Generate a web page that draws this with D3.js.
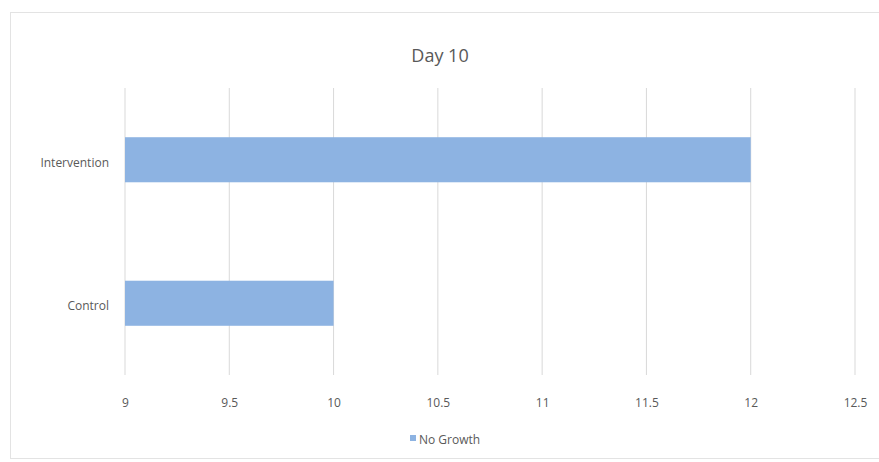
<!DOCTYPE html>
<html><head><meta charset="utf-8">
<script src="https://cdn.jsdelivr.net/npm/d3@7"></script>
<style>body{margin:0;background:#fff;} text{font-family:"Open Sans","Liberation Sans",sans-serif;}</style>
</head><body>
<svg id="c" width="879" height="462"></svg>
<script>
const categories = ["Intervention", "Control"];
const values = [12, 10];
const seriesName = "No Growth";
const tickValues = [9, 9.5, 10, 10.5, 11, 11.5, 12, 12.5];
const title = "Day 10";

const svg = d3.select("#c");
svg.append("rect").attr("x", 10.5).attr("y", 12.5).attr("width", 880).attr("height", 446)
  .attr("fill", "#fff").attr("stroke", "#e3e3e3");

const x = d3.scaleLinear().domain([9, 12.5]).range([125, 855]);
const y = d3.scaleBand().domain(categories).range([88, 375]).paddingInner(0.686).paddingOuter(0.343);

svg.append("g").selectAll("line").data(tickValues).join("line")
  .attr("x1", d => x(d)).attr("x2", d => x(d)).attr("y1", 88).attr("y2", 375)
  .attr("stroke", "#d9d9d9").attr("stroke-width", 1);

svg.append("g").selectAll("rect").data(categories).join("rect")
  .attr("x", x(9)).attr("y", d => y(d))
  .attr("width", (d, i) => x(values[i]) - x(9))
  .attr("height", y.bandwidth()).attr("fill", "#8db3e2");

const xAxis = svg.append("g").attr("transform", "translate(0,375)")
  .call(d3.axisBottom(x).tickValues(tickValues).tickSize(0).tickPadding(23).tickFormat(d3.format("")));
xAxis.select(".domain").remove();
xAxis.selectAll("text").attr("fill", "#595959").style("font-size", "12px");

const yAxis = svg.append("g").attr("transform", `translate(${x(9)},0)`)
  .call(d3.axisLeft(y).tickSize(0).tickPadding(16));
yAxis.select(".domain").remove();
yAxis.selectAll("text").attr("fill", "#595959").attr("dy", "0.6em").style("font-size", "12px");

svg.append("text").attr("x", 440).attr("y", 62).attr("text-anchor", "middle")
  .attr("fill", "#595959").style("font-size", "18px").text(title);

svg.append("rect").attr("x", 410).attr("y", 435).attr("width", 6).attr("height", 6).attr("fill", "#8db3e2");
svg.append("text").attr("x", 419).attr("y", 444).attr("fill", "#595959").style("font-size", "12px").text(seriesName);
</script>
</body></html>
